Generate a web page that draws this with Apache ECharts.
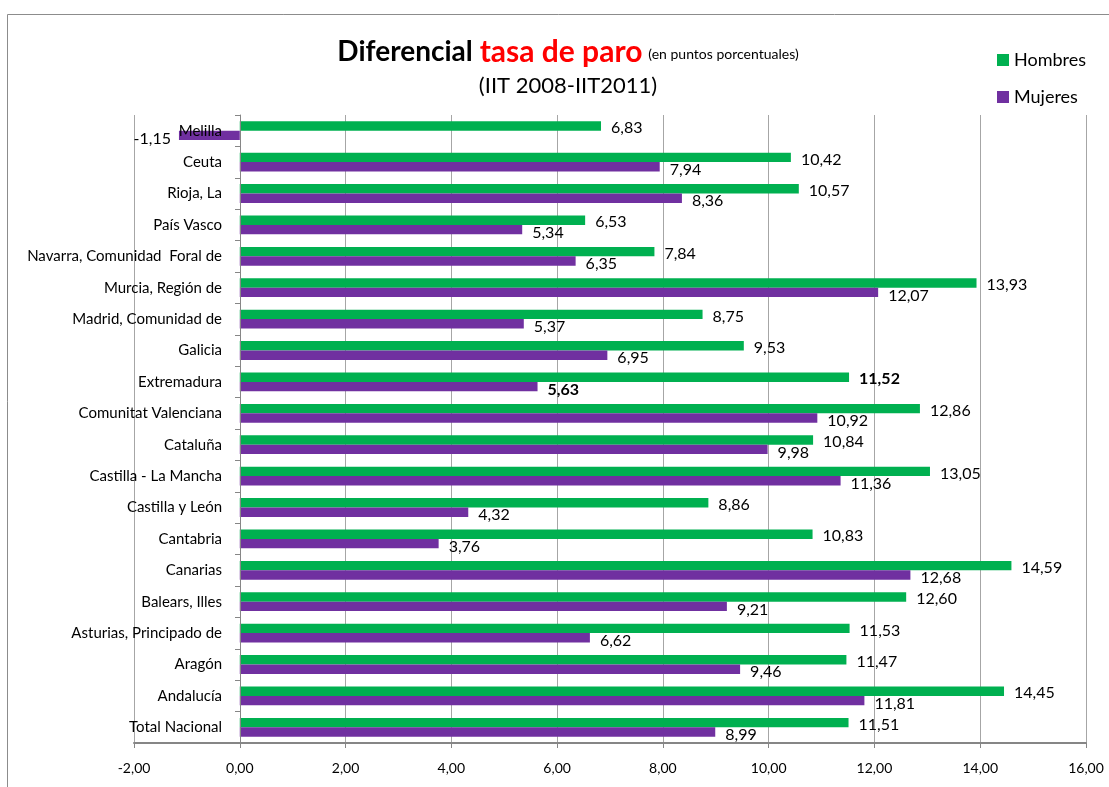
<!DOCTYPE html>
<html>
<head>
<meta charset="utf-8">
<script src="https://cdn.jsdelivr.net/npm/echarts@6/dist/echarts.min.js"></script>
<style>
  html, body { margin: 0; padding: 0; background: #fff; }
  #chart { width: 1109px; height: 787px; }
</style>
</head>
<body>
<div id="chart"></div>
<script>
// categorias de abajo hacia arriba
var regiones = ['Total Nacional', 'Andalucía', 'Aragón', 'Asturias, Principado de', 'Balears, Illes',
  'Canarias', 'Cantabria', 'Castilla y León', 'Castilla - La Mancha', 'Cataluña',
  'Comunitat Valenciana', 'Extremadura', 'Galicia', 'Madrid, Comunidad de', 'Murcia, Región de',
  'Navarra, Comunidad  Foral de', 'País Vasco', 'Rioja, La', 'Ceuta', 'Melilla']
var hombres = [11.51, 14.45, 11.47, 11.53, 12.60, 14.59, 10.83, 8.86, 13.05, 10.84,
  12.86, 11.52, 9.53, 8.75, 13.93, 7.84, 6.53, 10.57, 10.42, 6.83]
var mujeres = [8.99, 11.81, 9.46, 6.62, 9.21, 12.68, 3.76, 4.32, 11.36, 9.98,
  10.92, 5.63, 6.95, 5.37, 12.07, 6.35, 5.34, 8.36, 7.94, -1.15]
var xTicks = [-2, 0, 2, 4, 6, 8, 10, 12, 14, 16]

var fmt = function (v) { return v.toFixed(2).replace('.', ',') }
var FONT = 'Lato, "Open Sans", sans-serif'

function toData (arr) {
  return arr.map(function (v, i) {
    var d = { value: v }
    if (regiones[i] === 'Extremadura') d.label = { fontWeight: 'bold' }
    if (v < 0) d.label = { position: 'left', distance: 8 }
    return d
  })
}

var chart = echarts.init(document.getElementById('chart'))
var option = {
  backgroundColor: '#fff',
  animation: false,
  textStyle: { fontFamily: FONT },
  graphic: [{
    type: 'rect',
    shape: { x: 7.5, y: 14.5, width: 1110, height: 800 },
    style: { fill: 'none', stroke: '#8c8c8c', lineWidth: 1 },
    silent: true
  }],
  title: {
    left: 563,
    top: 32,
    textAlign: 'center',
    text: '{a|Diferencial}{b|tasa de paro}{c|(en puntos porcentuales)}',
    subtext: '(IIT 2008-IIT2011)',
    itemGap: 8,
    textStyle: {
      fontFamily: FONT,
      rich: {
        a: { fontSize: 28, fontWeight: 'bold', color: '#000', fontFamily: FONT },
        b: { fontSize: 30, fontWeight: 'bold', color: '#ff0000', fontFamily: FONT, padding: [0, 0, 0, 7] },
        c: { fontSize: 14, fontWeight: 'normal', color: '#000', fontFamily: FONT, padding: [4, 0, 0, 6] }
      }
    },
    subtextStyle: { fontSize: 22, color: '#000', fontFamily: FONT }
  },
  legend: {
    orient: 'vertical',
    left: 992,
    top: 46,
    itemWidth: 12,
    itemHeight: 12,
    itemGap: 19,
    icon: 'rect',
    textStyle: { fontSize: 18, color: '#000', fontFamily: FONT },
    data: ['Hombres', 'Mujeres']
  },
  grid: { left: 134, right: 23, top: 115, bottom: 44, containLabel: false, outerBoundsMode: 'none' },
  xAxis: {
    type: 'value',
    min: xTicks[0],
    max: xTicks[xTicks.length - 1],
    interval: 2,
    axisLine: { show: true, lineStyle: { color: '#868686', width: 2 } },
    axisTick: { show: true, length: 5, lineStyle: { color: '#868686' } },
    axisLabel: { formatter: fmt, fontSize: 14, color: '#000', margin: 18, fontFamily: FONT },
    splitLine: { show: true, lineStyle: { color: '#a6a6a6' } }
  },
  yAxis: {
    type: 'category',
    data: regiones,
    offset: -106,
    z: 5,
    axisLine: { show: true, onZero: false, lineStyle: { color: '#868686' } },
    axisTick: { show: true, length: 5, lineStyle: { color: '#868686' } },
    axisLabel: { fontSize: 15, color: '#000', margin: 18, padding: [4, 0, 0, 0], fontFamily: FONT }
  },
  series: [
    {
      name: 'Hombres',
      type: 'bar',
      data: toData(hombres),
      itemStyle: { color: '#00b050' },
      barGap: 0,
      barCategoryGap: '40%',
      label: { show: true, position: 'right', distance: 10, offset: [0, 2], formatter: function (p) { return fmt(p.value) }, fontSize: 16, color: '#000', fontFamily: FONT }
    },
    {
      name: 'Mujeres',
      type: 'bar',
      data: toData(mujeres),
      itemStyle: { color: '#7030a0' },
      barGap: 0,
      barCategoryGap: '40%',
      label: { show: true, position: 'right', distance: 10, offset: [0, 3], formatter: function (p) { return fmt(p.value) }, fontSize: 16, color: '#000', fontFamily: FONT }
    }
  ]
}
chart.setOption(option)
</script>
</body>
</html>
